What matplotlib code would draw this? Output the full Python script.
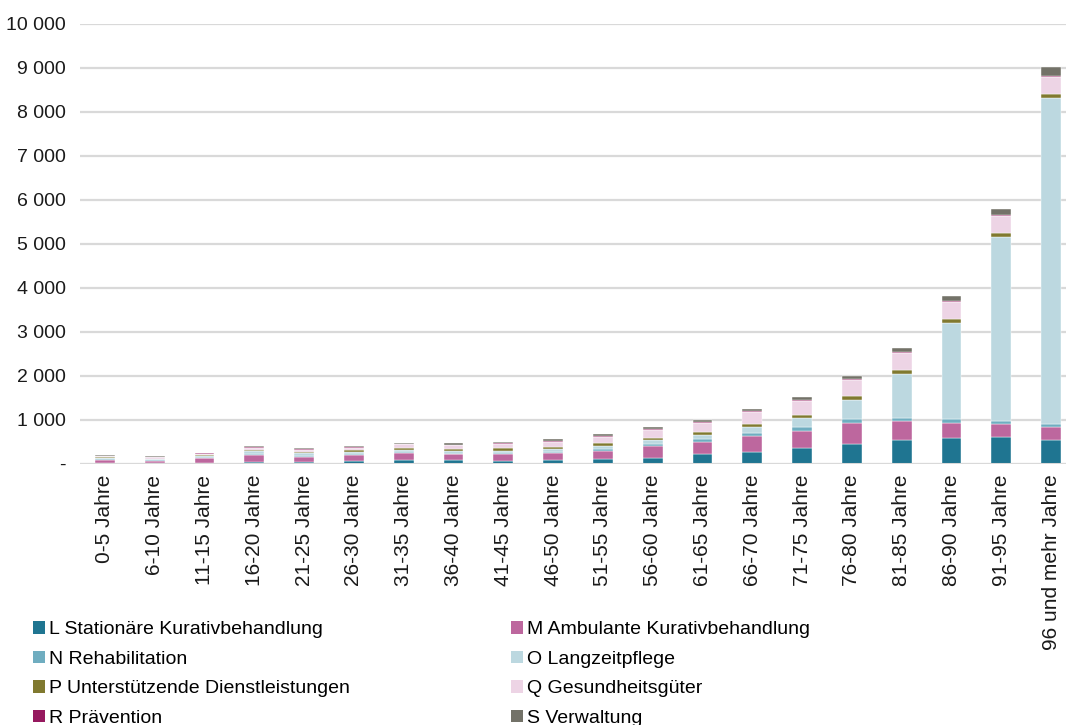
import matplotlib
matplotlib.use("Agg")
import matplotlib.pyplot as plt
from matplotlib.patches import Patch
from matplotlib.ticker import FuncFormatter
import numpy as np

plt.rcParams["font.family"] = ["Liberation Sans", "DejaVu Sans"]

age_groups = ["0-5 Jahre", "6-10 Jahre", "11-15 Jahre", "16-20 Jahre", "21-25 Jahre",
              "26-30 Jahre", "31-35 Jahre", "36-40 Jahre", "41-45 Jahre", "46-50 Jahre",
              "51-55 Jahre", "56-60 Jahre", "61-65 Jahre", "66-70 Jahre", "71-75 Jahre",
              "76-80 Jahre", "81-85 Jahre", "86-90 Jahre", "91-95 Jahre", "96 und mehr Jahre"]

stationaer = [10, 8, 15, 30, 30, 60, 76, 75, 55, 75, 105, 136, 205, 273, 356, 447, 545, 590, 598, 545]
ambulant = [80, 55, 100, 165, 120, 140, 174, 135, 155, 170, 180, 265, 295, 364, 394, 485, 423, 333, 303, 288]
rehabilitation = [15, 10, 20, 20, 15, 15, 15, 15, 30, 25, 38, 53, 61, 61, 76, 83, 77, 84, 61, 68]
langzeitpflege = [15, 25, 35, 70, 75, 55, 45, 55, 50, 60, 85, 83, 91, 129, 205, 432, 985, 2190, 4197, 7409]
dienstleistungen = [20, 15, 22, 30, 30, 40, 52, 52, 52, 52, 60, 53, 68, 76, 83, 91, 98, 91, 91, 91]
gesundheitsgueter = [30, 30, 28, 45, 45, 45, 75, 80, 105, 115, 140, 174, 212, 258, 318, 371, 386, 386, 380, 386]
praevention = [10, 8, 10, 12, 10, 12, 10, 10, 12, 20, 20, 15, 15, 23, 23, 23, 25, 23, 23, 23]
verwaltung = [20, 14, 15, 30, 30, 33, 25, 40, 30, 40, 35, 53, 53, 53, 61, 61, 84, 114, 144, 205]

series_labels = ["L Stationäre Kurativbehandlung", "M Ambulante Kurativbehandlung",
                 "N Rehabilitation", "O Langzeitpflege",
                 "P Unterstützende Dienstleistungen", "Q Gesundheitsgüter",
                 "R Prävention", "S Verwaltung"]
series_values = [stationaer, ambulant, rehabilitation, langzeitpflege,
                 dienstleistungen, gesundheitsgueter, praevention, verwaltung]
series_colors = ["#1F7591", "#BD679E", "#6FADC0", "#BCD8E0",
                 "#80792F", "#EDD4E5", "#96195F", "#737268"]

W, H = 1066, 725
fig = plt.figure(figsize=(W / 100, H / 100), dpi=100)
ax = fig.add_axes([80 / W, 1 - 463.5 / H, (1076 - 80) / W, (463.5 - 24) / H])

x = np.arange(len(age_groups))
bottom = np.zeros(len(age_groups))
for vals, col in zip(series_values, series_colors):
    v = np.array(vals, dtype=float)
    ax.bar(x, v, width=0.4, bottom=bottom, color=col,
           edgecolor="white", linewidth=0.3, zorder=3)
    bottom += v

ax.set_xlim(-0.5, len(age_groups) - 0.5)
ax.set_ylim(0, 10000)
ax.set_yticks(np.arange(0, 10001, 1000))
ax.yaxis.set_major_formatter(FuncFormatter(
    lambda v, p: "-" if v == 0 else f"{int(v):,}".replace(",", " ")))
ax.grid(axis="y", color="#D9D9D9", linewidth=1.6, zorder=0)
ax.axhline(0, color="#D9D9D9", linewidth=2.2, zorder=4)
for s in ax.spines.values():
    s.set_visible(False)
ax.tick_params(axis="y", length=0, pad=10, labelsize=14, labelcolor="#1a1a1a")
ax.tick_params(axis="x", length=0, pad=8, labelsize=15, labelcolor="#1a1a1a")
ax.set_xticks(x)
ax.set_xticklabels(age_groups, rotation=90, va="top", ha="center")

handles = [Patch(facecolor=c, edgecolor="none") for c in series_colors]
leg_kw = dict(frameon=False, fontsize=14, handlelength=0.62, handleheight=0.62,
              handletextpad=0.18, labelspacing=0.64, borderaxespad=0, borderpad=0)
leg1 = fig.legend([handles[i] for i in (0, 2, 4, 6)],
                  [series_labels[i] for i in (0, 2, 4, 6)],
                  loc="upper left", bbox_to_anchor=(33 / W, 1 - 621 / H), **leg_kw)
leg2 = fig.legend([handles[i] for i in (1, 3, 5, 7)],
                  [series_labels[i] for i in (1, 3, 5, 7)],
                  loc="upper left", bbox_to_anchor=(511 / W, 1 - 621 / H), **leg_kw)

fig.savefig("out.png", dpi=100)
